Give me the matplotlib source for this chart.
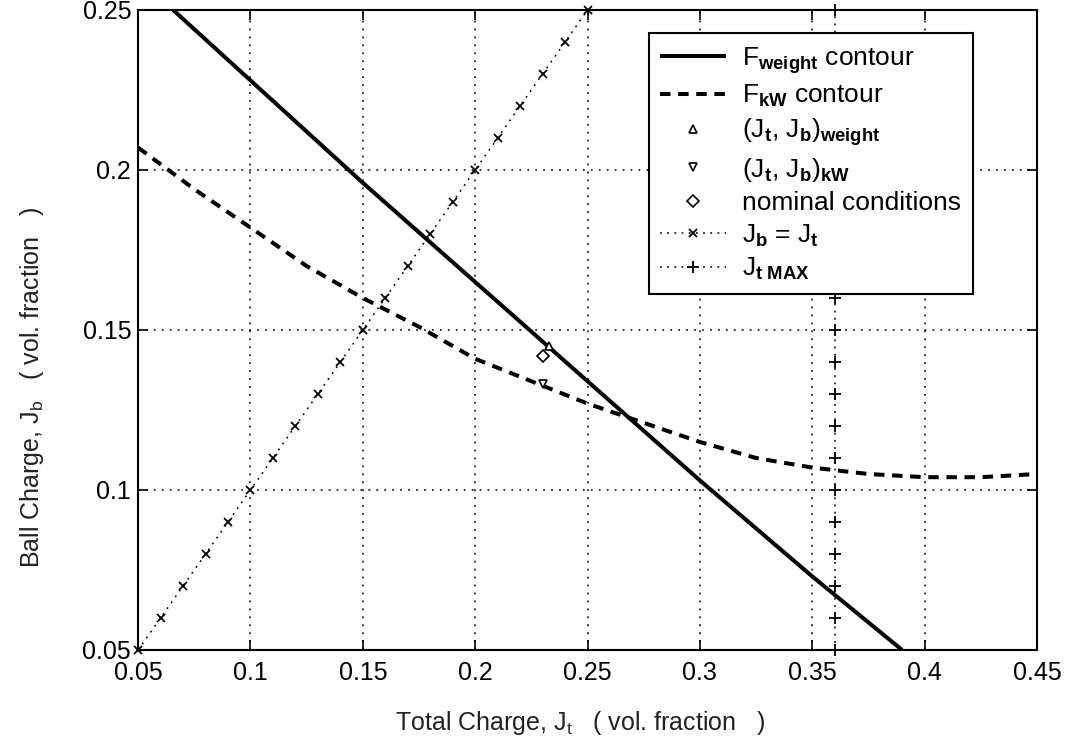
import matplotlib
matplotlib.use("Agg")
import matplotlib.pyplot as plt
from matplotlib.ticker import FormatStrFormatter, MultipleLocator

plt.rcParams["font.family"] = ["Liberation Sans", "DejaVu Sans"]
plt.rcParams["mathtext.fontset"] = "custom"
plt.rcParams["mathtext.rm"] = "Liberation Sans"
plt.rcParams["mathtext.it"] = "Liberation Sans"
plt.rcParams["mathtext.bf"] = "Liberation Sans:bold"

# constant-F_weight contour (total charge, ball charge)
weight_jt = [0.0656, 0.10, 0.15, 0.20, 0.25, 0.30, 0.35, 0.39]
weight_jb = [0.250, 0.228, 0.196, 0.165, 0.134, 0.103, 0.073, 0.050]

# constant-F_kW contour
kw_jt = [0.05, 0.075, 0.10, 0.125, 0.15, 0.175, 0.20, 0.225, 0.25,
         0.275, 0.30, 0.325, 0.35, 0.375, 0.40, 0.425, 0.45]
kw_jb = [0.207, 0.194, 0.182, 0.170, 0.160, 0.151, 0.141, 0.134, 0.127,
         0.121, 0.115, 0.110, 0.107, 0.105, 0.104, 0.104, 0.105]

# operating points
opt_weight = (0.233, 0.145)
opt_kw = (0.230, 0.133)
nominal = (0.230, 0.142)

# J_b = J_t reference and the maximum total charge
diag_j = [0.05, 0.06, 0.07, 0.08, 0.09, 0.10, 0.11, 0.12, 0.13, 0.14, 0.15,
          0.16, 0.17, 0.18, 0.19, 0.20, 0.21, 0.22, 0.23, 0.24, 0.25]
jt_max = 0.36
jt_max_jb = diag_j

fig = plt.figure(figsize=(10.79, 7.46), dpi=100)
ax = fig.add_axes([0.128, 0.1287, 0.833, 0.8579])

ax.plot(weight_jt, weight_jb, color="black", lw=2.9, solid_capstyle="butt",
        label=r"F$_{\mathbf{weight}}$ contour")
ax.plot(kw_jt, kw_jb, color="black", lw=2.9, linestyle=(0, (2.6, 1.9)),
        label=r"F$_{\mathbf{kW}}$ contour")
ax.plot(*opt_weight, linestyle="none", marker="^", ms=6, mfc="white",
        mec="black", mew=1.2,
        label=r"(J$_{\mathbf{t}}$, J$_{\mathbf{b}}$)$_{\mathbf{weight}}$")
ax.plot(*opt_kw, linestyle="none", marker="v", ms=6, mfc="white",
        mec="black", mew=1.2,
        label=r"(J$_{\mathbf{t}}$, J$_{\mathbf{b}}$)$_{\mathbf{kW}}$")
ax.plot(*nominal, linestyle="none", marker="D", ms=6, mfc="white",
        mec="black", mew=1.2, label="nominal conditions")
ax.plot(diag_j, diag_j, color="black", lw=1.1, linestyle=(0, (1.2, 3.5)),
        marker="x", ms=6, mew=1.3, clip_on=False,
        label=r"J$_{\mathbf{b}}$ = J$_{\mathbf{t}}$")
ax.plot([jt_max] * len(jt_max_jb), jt_max_jb, color="black", lw=1.1,
        linestyle=(0, (1.2, 3.5)), marker="+", ms=9, mew=1.3, clip_on=False,
        label=r"J$_{\mathbf{t\ MAX}}$")

ax.set_xlim(0.05, 0.45)
ax.set_ylim(0.05, 0.25)
ax.xaxis.set_major_locator(MultipleLocator(0.05))
ax.yaxis.set_major_locator(MultipleLocator(0.05))
ax.xaxis.set_major_formatter(FormatStrFormatter("%g"))
ax.yaxis.set_major_formatter(FormatStrFormatter("%g"))
ax.tick_params(direction="in", length=7, width=1.2, top=True, right=True,
               labelsize=18, colors="black")
ax.tick_params(axis="x", pad=8)
ax.tick_params(axis="y", pad=5)
ax.grid(True, color="black", lw=1.1, linestyle=(0, (1.2, 4.0)))
for spine in ax.spines.values():
    spine.set_linewidth(1.5)

ax.set_xlabel(r"Total Charge, J$_t$   ( vol. fraction   )", fontsize=18,
              color="#222222")
ax.set_ylabel(r"Ball Charge, J$_b$   ( vol. fraction   )", fontsize=18,
              color="#222222")
ax.xaxis.set_label_coords(0.492, -0.092)
ax.yaxis.set_label_coords(-0.103, 0.41)

leg = ax.legend(loc="upper right", bbox_to_anchor=(0.929, 0.964),
                borderaxespad=0, fontsize=19, fancybox=False, framealpha=1,
                edgecolor="black", handlelength=2.5, handletextpad=0.6,
                labelspacing=0.28, borderpad=0.45)
leg.get_frame().set_linewidth(1.5)

fig.savefig("out.png", dpi=100)
